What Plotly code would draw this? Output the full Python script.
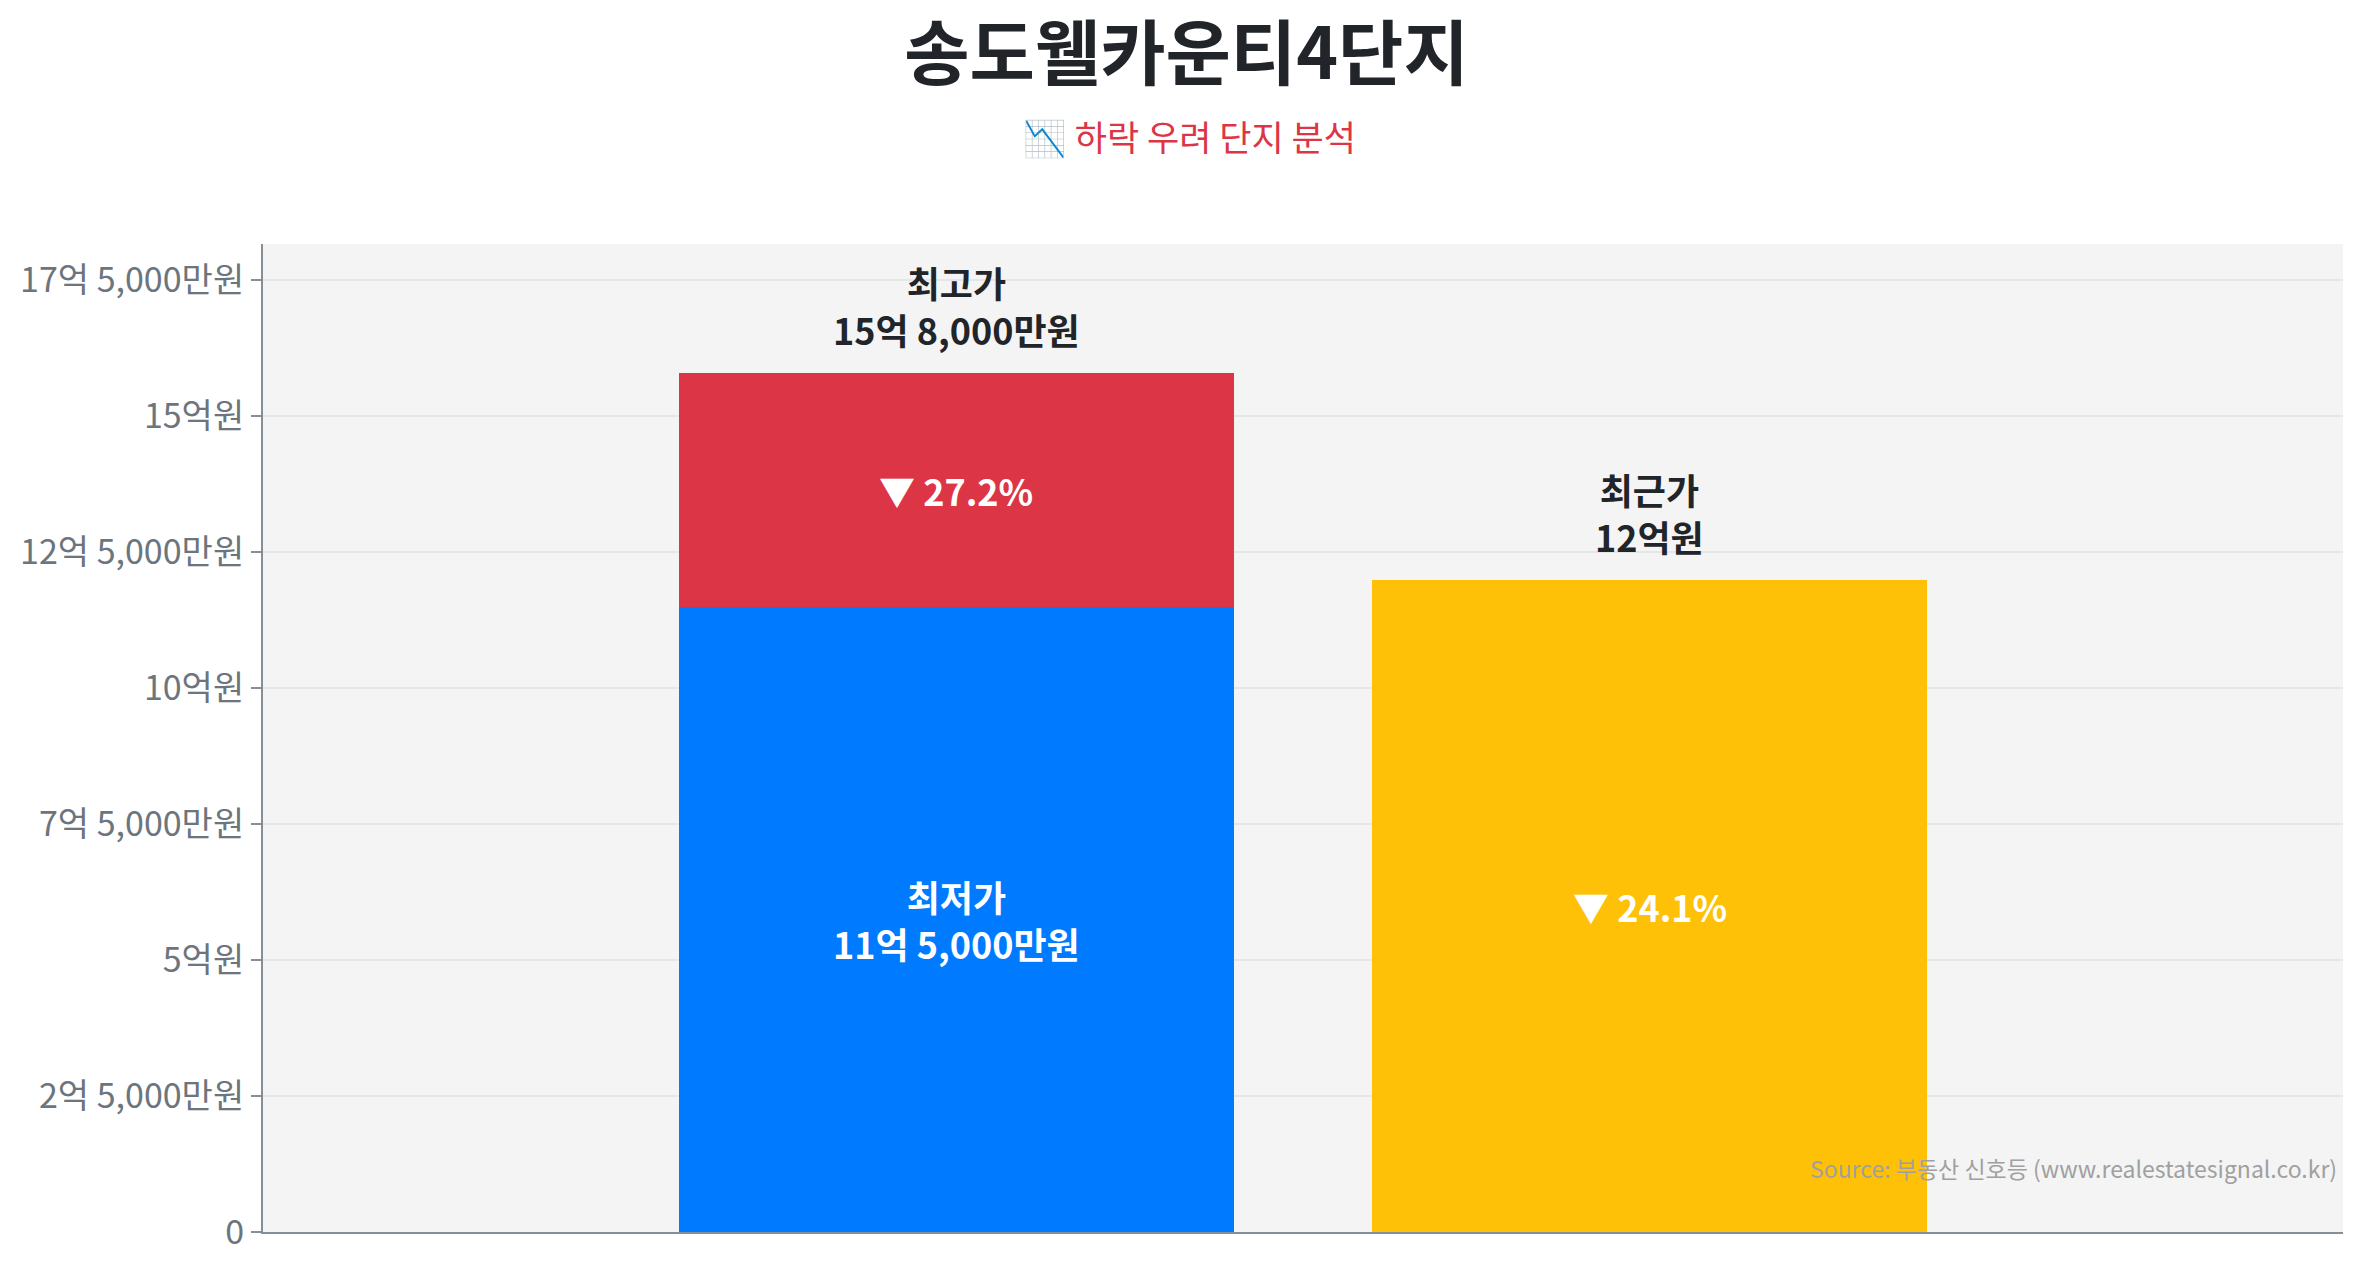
import plotly.graph_objects as go

# ------------------------------------------------------------
# data (원)
# ------------------------------------------------------------
complex_name = "송도웰카운티4단지"
categories = ["최고/최저가", "최근가"]
high_price = 1580000000
low_price = 1150000000
recent_price = 1200000000

high_label = "15억 8,000만원"
low_label = "11억 5,000만원"
recent_label = "12억원"
drop_high_low = "27.2%"
drop_recent = "24.1%"

tick_vals = [0, 250000000, 500000000, 750000000, 1000000000,
             1250000000, 1500000000, 1750000000]
tick_text = ["0", "2억 5,000만원", "5억원", "7억 5,000만원", "10억원",
             "12억 5,000만원", "15억원", "17억 5,000만원"]

FONT = "Noto Sans CJK KR"
DARK = "#212529"
GRAY = "#6c757d"

W, H = 2357, 1268
ML, MR, MT, MB = 249, 22, 236, 44

fig = go.Figure()

# 최저가 (blue) + 최고가까지 차이 (red), stacked
fig.add_trace(go.Bar(x=[categories[0]], y=[low_price],
                     marker=dict(color="#007bff", line=dict(width=0)),
                     hoverinfo="skip"))
fig.add_trace(go.Bar(x=[categories[0]], y=[high_price - low_price],
                     marker=dict(color="#dc3545", line=dict(width=0)),
                     hoverinfo="skip"))
# 최근가 (yellow)
fig.add_trace(go.Bar(x=[categories[1]], y=[recent_price],
                     marker=dict(color="#ffc107", line=dict(width=0)),
                     hoverinfo="skip"))

ann = []
lbl_font = dict(family=FONT, size=36, color=DARK)
white_font = dict(family=FONT, size=36, color="white")

ann.append(dict(x=categories[0], y=high_price, yanchor="bottom", yshift=16,
                text=f"<b>최고가<br>{high_label}</b>", showarrow=False, font=lbl_font))
ann.append(dict(x=categories[1], y=recent_price, yanchor="bottom", yshift=16,
                text=f"<b>최근가<br>{recent_label}</b>", showarrow=False, font=lbl_font))
ann.append(dict(x=categories[0], y=(high_price + low_price) / 2,
                text=f"<b>▼ {drop_high_low}</b>", showarrow=False, font=white_font))
ann.append(dict(x=categories[0], y=low_price / 2,
                text=f"<b>최저가<br>{low_label}</b>", showarrow=False, font=white_font))
ann.append(dict(x=categories[1], y=recent_price / 2,
                text=f"<b>▼ {drop_recent}</b>", showarrow=False, font=white_font))

# subtitle (centred on the page) + source
page_mid = (W / 2 - ML) / (W - ML - MR)
ann.append(dict(xref="paper", yref="paper", x=page_mid, y=1.0, yshift=109,
                xanchor="center", yanchor="middle",
                text="📉 하락 우려 단지 분석", showarrow=False,
                font=dict(family=FONT, size=35, color="#dc3545")))
ann.append(dict(xref="paper", yref="paper", x=1.0, xshift=-4, y=0.065,
                xanchor="right", yanchor="middle",
                text="Source: 부동산 신호등 (www.realestatesignal.co.kr)",
                showarrow=False, font=dict(family=FONT, size=23, color="#a0a0a0")))

fig.update_layout(
    width=W, height=H,
    barmode="stack", bargap=0.2, showlegend=False,
    title=dict(text=f"<b>{complex_name}</b>", x=0.5, xanchor="center",
               y=0.964, yanchor="middle",
               font=dict(family=FONT, size=71, color=DARK)),
    paper_bgcolor="white", plot_bgcolor="#f4f4f4",
    margin=dict(l=ML, r=MR, t=MT, b=MB),
    font=dict(family=FONT, color=GRAY),
    xaxis=dict(range=[-1, 2], showticklabels=False, showgrid=False,
               showline=True, linecolor="#868e96", linewidth=2,
               zeroline=False, fixedrange=True),
    yaxis=dict(range=[0, high_price * 1.15], tickvals=tick_vals, ticktext=tick_text,
               tickfont=dict(family=FONT, size=34, color=GRAY),
               ticks="outside", ticklen=10, tickcolor="#868e96", tickwidth=2,
               showline=True, linecolor="#868e96", linewidth=2,
               gridcolor="#e6e6e6", gridwidth=2, zeroline=False),
    annotations=ann,
)

fig.write_html("out.html")
